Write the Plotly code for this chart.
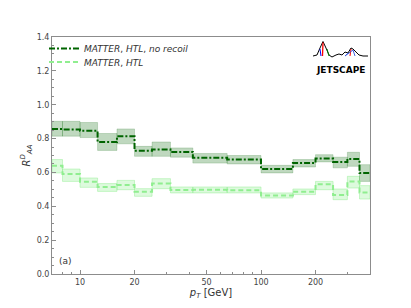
import plotly.graph_objects as go
import math

# ---- data ----
edges = [7, 8, 10, 12.5, 16, 20, 25, 31.6, 42, 65, 100, 150, 200, 250, 300, 350, 400]
norecoil_mid = [0.856, 0.854, 0.846, 0.780, 0.814, 0.728, 0.735, 0.721, 0.686, 0.677,
                0.620, 0.656, 0.682, 0.662, 0.680, 0.597]
norecoil_hi = [0.902, 0.902, 0.895, 0.830, 0.857, 0.754, 0.780, 0.745, 0.712, 0.700,
               0.642, 0.676, 0.705, 0.690, 0.719, 0.646]
norecoil_lo = [0.814, 0.814, 0.806, 0.730, 0.769, 0.695, 0.695, 0.690, 0.655, 0.650,
               0.597, 0.632, 0.662, 0.627, 0.636, 0.547]
htl_mid = [0.640, 0.590, 0.545, 0.514, 0.526, 0.486, 0.534, 0.496, 0.498, 0.494,
           0.463, 0.486, 0.530, 0.467, 0.547, 0.482]
htl_hi = [0.676, 0.620, 0.567, 0.534, 0.553, 0.504, 0.563, 0.514, 0.514, 0.514,
          0.479, 0.502, 0.547, 0.502, 0.577, 0.522]
htl_lo = [0.597, 0.547, 0.512, 0.488, 0.498, 0.459, 0.504, 0.479, 0.479, 0.479,
          0.449, 0.469, 0.498, 0.439, 0.508, 0.443]
names = ["<i>MATTER</i>, <i>HTL</i>, <i>no recoil</i>", "<i>MATTER</i>, <i>HTL</i>"]
xticks = [10, 20, 50, 100, 200]
yticks = [0.0, 0.2, 0.4, 0.6, 0.8, 1.0, 1.2, 1.4]

DARK = "#006400"
LIGHT = "#90EE90"


def boxes(lo, hi):
    xs, ys = [], []
    for i in range(len(lo)):
        x0, x1 = edges[i], edges[i + 1]
        xs += [x0, x1, x1, x0, x0, None]
        ys += [lo[i], lo[i], hi[i], hi[i], lo[i], None]
    return xs, ys


fig = go.Figure()
for lo, hi, fc, lc in [(htl_lo, htl_hi, "rgba(144,238,144,0.30)", "rgba(144,238,144,0.45)"),
                       (norecoil_lo, norecoil_hi, "rgba(0,100,0,0.25)", "rgba(0,100,0,0.18)")]:
    bx, by = boxes(lo, hi)
    fig.add_trace(go.Scatter(x=bx, y=by, mode="lines", fill="toself", fillcolor=fc,
                             line=dict(color=lc, width=1), showlegend=False,
                             hoverinfo="skip"))

fig.add_trace(go.Scatter(x=edges, y=norecoil_mid + [norecoil_mid[-1]], mode="lines",
                         line=dict(color=DARK, width=2, dash="6px,2px,2px,2px", shape="hv"),
                         name=names[0], legend="legend"))
fig.add_trace(go.Scatter(x=edges, y=htl_mid + [htl_mid[-1]], mode="lines",
                         line=dict(color=LIGHT, width=2, dash="5px,3px", shape="hv"),
                         name=names[1], legend="legend2"))

# ---- layout ----
L, R, T, B = 52, 41, 37, 34
W, H = 411, 308
pw, ph = W - L - R, H - T - B


def px(xp, yp):
    return (xp - L) / pw, (H - B - yp) / ph


axis_common = dict(showgrid=False, zeroline=False, showline=True, linecolor="#8c8c8c",
                   linewidth=1, mirror=True, ticks="inside", tickcolor="#8c8c8c",
                   ticklen=4, tickwidth=1, automargin=False,
                   tickfont=dict(family="DejaVu Sans", size=8, color="#444444"))

leg_common = dict(xanchor="left", yanchor="middle", bgcolor="rgba(0,0,0,0)",
                  font=dict(family="DejaVu Sans", size=9, color="#333333"), itemwidth=30)
lx1, ly1 = px(44, 48.5)
lx2, ly2 = px(44, 62)

fig.update_layout(
    width=W, height=H, margin=dict(l=L, r=R, t=T, b=B),
    paper_bgcolor="white", plot_bgcolor="white",
    xaxis=dict(type="log", range=[math.log10(7), math.log10(400)], tickmode="array",
               tickvals=xticks, ticktext=[str(v) for v in xticks],
               minor=dict(tickmode="array", tickvals=[8, 9, 30, 40, 60, 70, 80, 90, 300],
                          ticks="inside", ticklen=2, tickcolor="#8c8c8c"),
               title=dict(text="<i>p</i><sub><i>T</i></sub> [GeV]", standoff=2,
                          font=dict(family="DejaVu Sans", size=10, color="#333333")),
               **axis_common),
    yaxis=dict(range=[0, 1.4], tickmode="array", tickvals=yticks,
               ticktext=[f"{v:.1f}" for v in yticks],
               minor=dict(dtick=0.05, ticks="inside", ticklen=2, tickcolor="#8c8c8c"),
               title=dict(text="<i>R</i><sup><i>D</i></sup><sub><i>AA</i></sub>", standoff=4,
                          font=dict(family="DejaVu Sans", size=10, color="#333333")),
               **axis_common),
    legend=dict(x=lx1, y=ly1, **leg_common),
    legend2=dict(x=lx2, y=ly2, **leg_common),
    showlegend=True,
)

# panel label
ax, ay = px(57, 261)
fig.add_annotation(text="(a)", x=ax, y=ay, xref="paper", yref="paper", showarrow=False,
                   xanchor="left", yanchor="middle",
                   font=dict(family="DejaVu Sans", size=9, color="#333333"))

# JETSCAPE logo (decoration)
def path(points):
    s = ""
    for i, (a, b) in enumerate(points):
        xa, ya = px(a, b)
        s += ("M" if i == 0 else "L") + f"{xa:.4f},{ya:.4f} "
    return s

logo_black = [(313, 56), (317, 55), (320, 48), (323, 41.5), (326, 48), (329, 55), (332, 57),
              (336, 55), (339, 54), (342, 55), (345, 52), (348, 53), (351, 48), (353, 49),
              (356, 52), (359, 55), (363, 56), (368, 56)]
fig.add_shape(type="path", path=path(logo_black), xref="paper", yref="paper",
              line=dict(color="black", width=1))
fig.add_shape(type="path", path=path([(323, 42.5), (322.5, 56)]), xref="paper", yref="paper",
              line=dict(color="red", width=1.3))
fig.add_shape(type="path", path=path([(320, 49), (321, 56)]), xref="paper", yref="paper",
              line=dict(color="blue", width=1))
fig.add_shape(type="path", path=path([(327, 49), (329, 56)]), xref="paper", yref="paper",
              line=dict(color="green", width=1))
fig.add_shape(type="path", path=path([(351, 49), (350, 56)]), xref="paper", yref="paper",
              line=dict(color="red", width=1))
fig.add_shape(type="path", path=path([(348, 53), (345, 56), (353, 50), (355, 56)]),
              xref="paper", yref="paper", line=dict(color="#4060e0", width=1))
jx, jy = px(340.5, 70)
fig.add_annotation(text="<b>JETSCAPE</b>", x=jx, y=jy, xref="paper", yref="paper",
                   showarrow=False, xanchor="center", yanchor="middle",
                   font=dict(family="DejaVu Sans", size=9, color="black"))

fig.write_html("out.html", config={"displayModeBar": False},
               post_script="document.body.style.margin='0';document.body.style.padding='0';"
                           "document.documentElement.style.overflow='hidden';")
